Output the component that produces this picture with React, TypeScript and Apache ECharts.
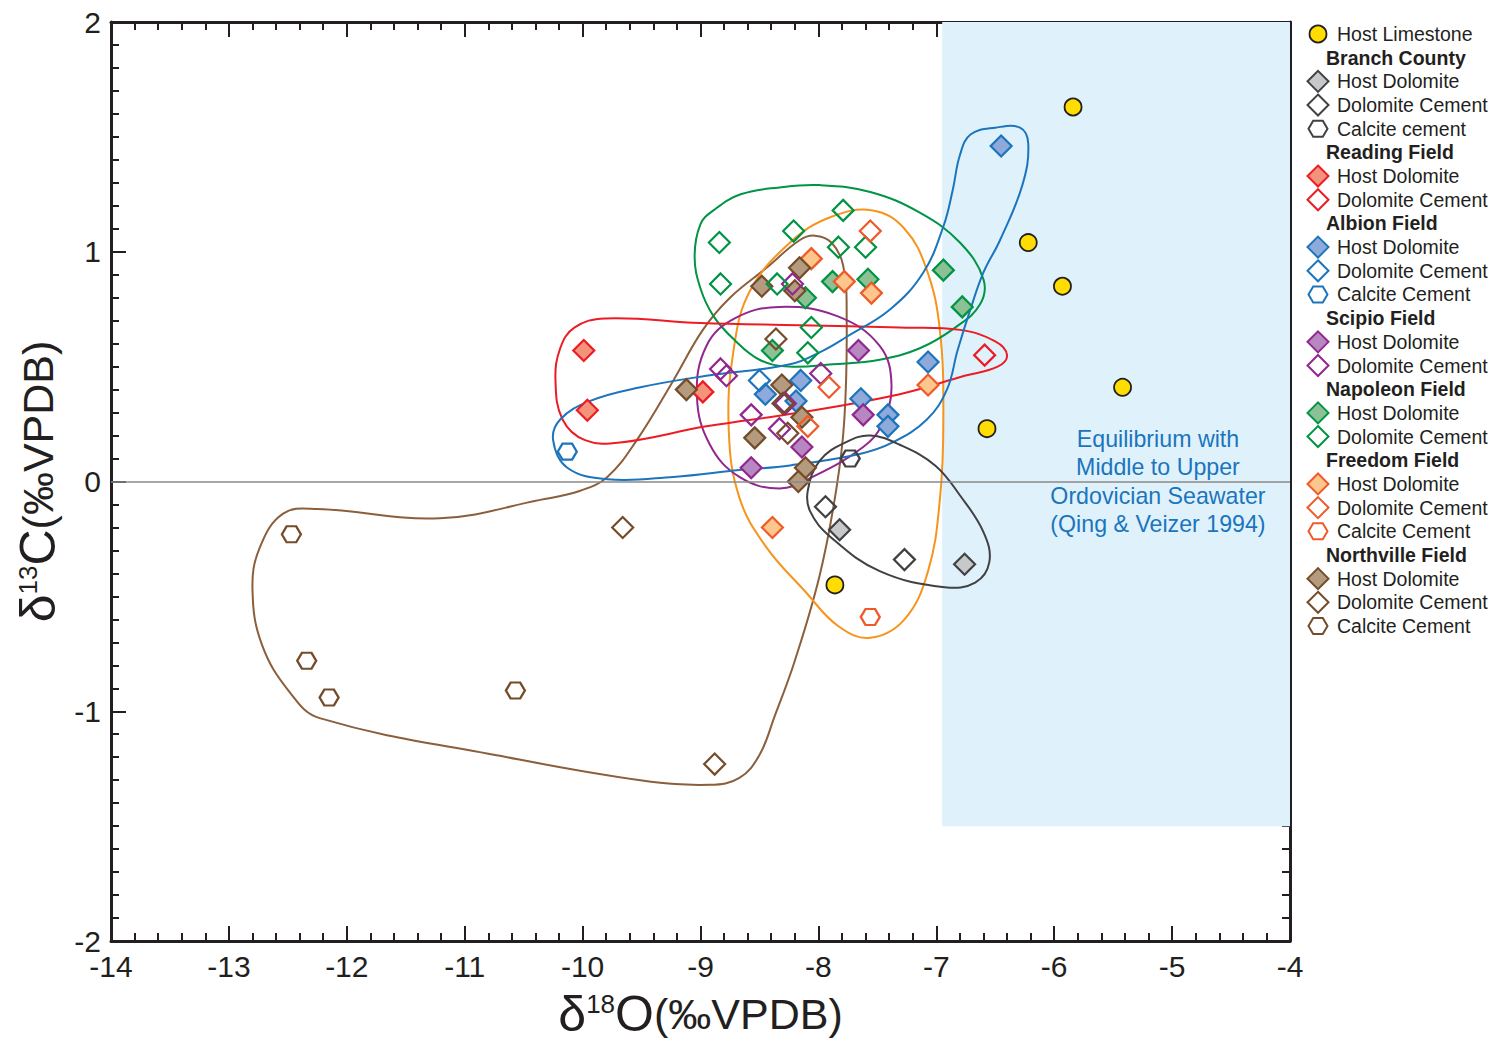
import React, { useEffect, useRef } from "react";
import * as echarts from "echarts";

const FONT = '"Liberation Sans", Arial, Helvetica, sans-serif';

// ---------- axis ----------
const X_MIN = -14;
const X_MAX = -4;
const Y_MIN = -2;
const Y_MAX = 2;

// ---------- data (δ18O, δ13C) ----------
const HOST_LIMESTONE = [[-5.84, 1.63], [-6.22, 1.04], [-5.93, 0.85], [-5.42, 0.41], [-6.57, 0.23], [-7.86, -0.45]];

const BRANCH_HOST = [[-7.82, -0.21], [-6.76, -0.36]];
const BRANCH_CEMENT = [[-7.94, -0.11], [-7.27, -0.34]];
const BRANCH_CALCITE = [[-7.73, 0.1]];

const READING_HOST = [[-9.99, 0.57], [-9.96, 0.31], [-8.98, 0.39]];
const READING_CEMENT = [[-6.59, 0.55]];

const ALBION_HOST = [[-6.45, 1.46], [-7.07, 0.52], [-7.64, 0.36], [-7.41, 0.29], [-7.41, 0.24], [-8.15, 0.44], [-8.45, 0.38], [-8.19, 0.35]];
const ALBION_CEMENT = [[-8.5, 0.44]];
const ALBION_CALCITE = [[-10.13, 0.13]];

const SCIPIO_HOST = [[-7.66, 0.57], [-7.62, 0.29], [-8.57, 0.06], [-8.14, 0.15]];
const SCIPIO_CEMENT = [[-8.83, 0.49], [-8.78, 0.46], [-8.57, 0.29], [-8.33, 0.23], [-7.98, 0.47], [-8.28, 0.34], [-8.22, 0.86]];

const NAPOLEON_HOST = [[-6.94, 0.92], [-6.78, 0.76], [-7.58, 0.88], [-7.88, 0.87], [-8.11, 0.8], [-8.39, 0.57]];
const NAPOLEON_CEMENT = [[-8.84, 1.04], [-8.83, 0.86], [-8.21, 1.09], [-7.79, 1.18], [-7.83, 1.02], [-7.6, 1.02], [-8.35, 0.86], [-8.06, 0.67], [-8.09, 0.56]];

const FREEDOM_HOST = [[-8.06, 0.97], [-7.78, 0.87], [-7.55, 0.82], [-7.07, 0.42], [-8.39, -0.2]];
const FREEDOM_CEMENT = [[-7.56, 1.09], [-7.91, 0.41], [-8.09, 0.24]];
const FREEDOM_CALCITE = [[-7.56, -0.59]];

const NORTHVILLE_HOST = [[-9.12, 0.4], [-8.48, 0.85], [-8.16, 0.93], [-8.2, 0.83], [-8.31, 0.42], [-8.54, 0.19], [-8.14, 0.28], [-8.11, 0.06], [-8.17, 0.0]];
const NORTHVILLE_CEMENT = [[-8.36, 0.62], [-8.88, -1.23], [-9.66, -0.2], [-8.26, 0.21], [-8.3, 0.34]];
const NORTHVILLE_CALCITE = [[-12.47, -0.23], [-12.34, -0.78], [-12.15, -0.94], [-10.57, -0.91]];

// ---------- field outlines (data coords) ----------
const NAPOLEON_OUTLINE = [[-9.05, 0.98], [-9.0, 1.12], [-8.89, 1.18], [-8.66, 1.25], [-8.33, 1.28], [-7.99, 1.29], [-7.56, 1.26], [-7.14, 1.17], [-6.8, 1.04], [-6.6, 0.88], [-6.63, 0.77], [-6.84, 0.67], [-7.14, 0.58], [-7.48, 0.53], [-7.88, 0.51], [-8.25, 0.5], [-8.5, 0.53], [-8.72, 0.62], [-8.89, 0.72], [-9.0, 0.84]];
const READING_OUTLINE = [[-10.23, 0.44], [-10.19, 0.58], [-10.07, 0.67], [-9.81, 0.71], [-9.0, 0.69], [-8.16, 0.68], [-7.31, 0.67], [-6.8, 0.66], [-6.5, 0.61], [-6.4, 0.55], [-6.48, 0.5], [-6.76, 0.46], [-7.31, 0.38], [-8.16, 0.3], [-8.95, 0.24], [-9.68, 0.17], [-9.98, 0.18], [-10.17, 0.27]];
const ALBION_OUTLINE = [[-10.25, 0.18], [-10.19, 0.27], [-9.94, 0.35], [-9.51, 0.41], [-8.95, 0.46], [-8.24, 0.51], [-7.96, 0.57], [-7.76, 0.63], [-7.39, 0.75], [-7.11, 0.91], [-6.94, 1.11], [-6.86, 1.27], [-6.8, 1.42], [-6.71, 1.51], [-6.5, 1.54], [-6.29, 1.54], [-6.22, 1.47], [-6.27, 1.29], [-6.46, 1.05], [-6.6, 0.91], [-6.71, 0.75], [-6.82, 0.57], [-6.91, 0.4], [-7.08, 0.27], [-7.37, 0.17], [-7.65, 0.12], [-8.24, 0.07], [-8.67, 0.05], [-9.23, 0.02], [-9.79, 0.01], [-10.13, 0.06]];
const SCIPIO_OUTLINE = [[-9.03, 0.37], [-8.95, 0.59], [-8.71, 0.71], [-8.33, 0.76], [-7.84, 0.72], [-7.48, 0.59], [-7.38, 0.42], [-7.46, 0.25], [-7.62, 0.15], [-8.05, 0.02], [-8.33, -0.03], [-8.67, 0.02], [-8.92, 0.16]];
const FREEDOM_OUTLINE = [[-7.54, 1.18], [-7.27, 1.1], [-7.08, 0.92], [-6.97, 0.66], [-6.94, 0.27], [-6.97, -0.08], [-7.07, -0.39], [-7.27, -0.6], [-7.56, -0.68], [-7.83, -0.63], [-8.11, -0.48], [-8.45, -0.28], [-8.67, -0.07], [-8.76, 0.22], [-8.72, 0.57], [-8.58, 0.83], [-8.24, 1.04], [-7.9, 1.15]];
const NORTHVILLE_OUTLINE = [[-9.79, 0.02], [-9.54, 0.18], [-9.23, 0.44], [-8.98, 0.66], [-8.75, 0.8], [-8.44, 0.93], [-8.16, 1.05], [-8.03, 1.07], [-7.89, 1.04], [-7.79, 0.94], [-7.76, 0.7], [-7.78, 0.27], [-7.85, -0.04], [-7.99, -0.41], [-8.2, -0.78], [-8.37, -1.02], [-8.5, -1.19], [-8.67, -1.29], [-8.92, -1.32], [-9.51, -1.3], [-10.64, -1.2], [-12.23, -1.03], [-12.48, -0.92], [-12.72, -0.71], [-12.8, -0.47], [-12.74, -0.29], [-12.54, -0.14], [-12.25, -0.12], [-11.21, -0.16], [-10.36, -0.08], [-10.02, -0.04]];
const BRANCH_OUTLINE = [[-8.09, -0.04], [-7.99, 0.09], [-7.77, 0.17], [-7.56, 0.2], [-7.31, 0.16], [-7.01, 0.07], [-6.8, -0.06], [-6.6, -0.22], [-6.55, -0.35], [-6.67, -0.44], [-6.93, -0.46], [-7.48, -0.39], [-7.9, -0.24], [-8.07, -0.13]];

// seawater equilibrium box
const SEAWATER_BOX = [[-6.95, 2], [-4, -1.5]];
const SEAWATER_LABEL_POS = [-5.12, 0.0];
const SEAWATER_LABEL = "Equilibrium with\nMiddle to Upper\nOrdovician Seawater\n(Qing & Veizer 1994)";

// ---------- styles ----------
const STYLES: Record<string, { fill: string; stroke: string; line: string }> = {
  limestone: { fill: "#ffdd00", stroke: "#231f20", line: "#231f20" },
  branch: { fill: "#c6c8ca", stroke: "#414042", line: "#414042" },
  reading: { fill: "#f4937b", stroke: "#ec1c24", line: "#ed1c24" },
  albion: { fill: "#8eaadb", stroke: "#1c75bc", line: "#1c75bc" },
  scipio: { fill: "#b687c0", stroke: "#92278f", line: "#92278f" },
  napoleon: { fill: "#8cc196", stroke: "#009444", line: "#009444" },
  freedom: { fill: "#fdc68c", stroke: "#ef5a28", line: "#f7941d" },
  northville: { fill: "#b49a7e", stroke: "#754c29", line: "#8b5e3c" },
};

const HEX_PATH = "path://M0,8 L5,0 L15,0 L20,8 L15,16 L5,16 Z";

const GROUPS = [
  { name: "Host Limestone", data: HOST_LIMESTONE, shape: "circle", key: "limestone", open: false },
  { name: "Branch County Host Dolomite", data: BRANCH_HOST, shape: "diamond", key: "branch", open: false },
  { name: "Branch County Dolomite Cement", data: BRANCH_CEMENT, shape: "diamond", key: "branch", open: true },
  { name: "Branch County Calcite cement", data: BRANCH_CALCITE, shape: "hex", key: "branch", open: true },
  { name: "Reading Field Host Dolomite", data: READING_HOST, shape: "diamond", key: "reading", open: false },
  { name: "Reading Field Dolomite Cement", data: READING_CEMENT, shape: "diamond", key: "reading", open: true },
  { name: "Albion Field Host Dolomite", data: ALBION_HOST, shape: "diamond", key: "albion", open: false },
  { name: "Albion Field Dolomite Cement", data: ALBION_CEMENT, shape: "diamond", key: "albion", open: true },
  { name: "Albion Field Calcite Cement", data: ALBION_CALCITE, shape: "hex", key: "albion", open: true },
  { name: "Scipio Field Host Dolomite", data: SCIPIO_HOST, shape: "diamond", key: "scipio", open: false },
  { name: "Scipio Field Dolomite Cement", data: SCIPIO_CEMENT, shape: "diamond", key: "scipio", open: true },
  { name: "Napoleon Field Host Dolomite", data: NAPOLEON_HOST, shape: "diamond", key: "napoleon", open: false },
  { name: "Napoleon Field Dolomite Cement", data: NAPOLEON_CEMENT, shape: "diamond", key: "napoleon", open: true },
  { name: "Freedom Field Host Dolomite", data: FREEDOM_HOST, shape: "diamond", key: "freedom", open: false },
  { name: "Freedom Field Dolomite Cement", data: FREEDOM_CEMENT, shape: "diamond", key: "freedom", open: true },
  { name: "Freedom Field Calcite Cement", data: FREEDOM_CALCITE, shape: "hex", key: "freedom", open: true },
  { name: "Northville Field Host Dolomite", data: NORTHVILLE_HOST, shape: "diamond", key: "northville", open: false },
  { name: "Northville Field Dolomite Cement", data: NORTHVILLE_CEMENT, shape: "diamond", key: "northville", open: true },
  { name: "Northville Field Calcite Cement", data: NORTHVILLE_CALCITE, shape: "hex", key: "northville", open: true },
];

const OUTLINES = [
  { points: NORTHVILLE_OUTLINE, key: "northville" },
  { points: FREEDOM_OUTLINE, key: "freedom" },
  { points: NAPOLEON_OUTLINE, key: "napoleon" },
  { points: SCIPIO_OUTLINE, key: "scipio" },
  { points: READING_OUTLINE, key: "reading" },
  { points: ALBION_OUTLINE, key: "albion" },
  { points: BRANCH_OUTLINE, key: "branch" },
];

const LEGEND_ROWS = [
  { label: "Host Limestone", shape: "circle", key: "limestone", open: false },
  { label: "Branch County", header: true },
  { label: "Host Dolomite", shape: "diamond", key: "branch", open: false },
  { label: "Dolomite Cement", shape: "diamond", key: "branch", open: true },
  { label: "Calcite cement", shape: "hex", key: "branch", open: true },
  { label: "Reading Field", header: true },
  { label: "Host Dolomite", shape: "diamond", key: "reading", open: false },
  { label: "Dolomite Cement", shape: "diamond", key: "reading", open: true },
  { label: "Albion Field", header: true },
  { label: "Host Dolomite", shape: "diamond", key: "albion", open: false },
  { label: "Dolomite Cement", shape: "diamond", key: "albion", open: true },
  { label: "Calcite Cement", shape: "hex", key: "albion", open: true },
  { label: "Scipio Field", header: true },
  { label: "Host Dolomite", shape: "diamond", key: "scipio", open: false },
  { label: "Dolomite Cement", shape: "diamond", key: "scipio", open: true },
  { label: "Napoleon Field", header: true },
  { label: "Host Dolomite", shape: "diamond", key: "napoleon", open: false },
  { label: "Dolomite Cement", shape: "diamond", key: "napoleon", open: true },
  { label: "Freedom Field", header: true },
  { label: "Host Dolomite", shape: "diamond", key: "freedom", open: false },
  { label: "Dolomite Cement", shape: "diamond", key: "freedom", open: true },
  { label: "Calcite Cement", shape: "hex", key: "freedom", open: true },
  { label: "Northville Field", header: true },
  { label: "Host Dolomite", shape: "diamond", key: "northville", open: false },
  { label: "Dolomite Cement", shape: "diamond", key: "northville", open: true },
  { label: "Calcite Cement", shape: "hex", key: "northville", open: true },
];

function buildLegend(): any[] {
  const els: any[] = [];
  const x0 = 1318;
  const y0 = 34;
  const dy = 23.68;
  LEGEND_ROWS.forEach((r: any, i) => {
    const cy = y0 + i * dy;
    if (r.header) {
      els.push({
        type: "text",
        x: 1326,
        y: cy,
        style: {
          text: r.label,
          font: `bold 19.5px ${FONT}`,
          fill: "#231f20",
          verticalAlign: "middle",
          textVerticalAlign: "middle",
        },
        silent: true,
      });
      return;
    }
    const st = STYLES[r.key];
    const style = { fill: r.open ? "rgba(255,255,255,0)" : st.fill, stroke: st.stroke, lineWidth: 2 };
    if (r.shape === "circle") {
      els.push({ type: "circle", shape: { cx: x0, cy, r: 8.5 }, style: { ...style, lineWidth: 1.8 }, silent: true });
    } else if (r.shape === "diamond") {
      const h = 10.5;
      els.push({
        type: "polygon",
        shape: { points: [[x0, cy - h], [x0 + h, cy], [x0, cy + h], [x0 - h, cy]] },
        style,
        silent: true,
      });
    } else {
      els.push({
        type: "polygon",
        shape: {
          points: [[x0 - 9.5, cy], [x0 - 4.8, cy - 8], [x0 + 4.8, cy - 8], [x0 + 9.5, cy], [x0 + 4.8, cy + 8], [x0 - 4.8, cy + 8]],
        },
        style,
        silent: true,
      });
    }
    els.push({
      type: "text",
      x: 1337,
      y: cy,
      style: {
        text: r.label,
        font: `19.5px ${FONT}`,
        fill: "#231f20",
        verticalAlign: "middle",
        textVerticalAlign: "middle",
      },
      silent: true,
    });
  });
  return els;
}

const AXIS_COLOR = "#231f20";

function axisCommon(isX: boolean, labels: boolean) {
  return {
    type: "value",
    min: isX ? X_MIN : Y_MIN,
    max: isX ? X_MAX : Y_MAX,
    interval: 1,
    axisLine: { show: true, onZero: false, lineStyle: { color: AXIS_COLOR, width: 3 } },
    axisTick: { show: true, inside: true, length: 15, lineStyle: { color: AXIS_COLOR, width: 2 } },
    minorTick: { show: true, splitNumber: isX ? 5 : 10, length: 8, lineStyle: { color: AXIS_COLOR, width: 2 } },
    splitLine: { show: false },
    minorSplitLine: { show: false },
    axisLabel: labels
      ? { show: true, fontSize: 30, lineHeight: 24, color: AXIS_COLOR, fontFamily: FONT, margin: isX ? 13 : 10 }
      : { show: false },
  };
}

const NAME_RICH = {
  d: { fontSize: 50, fontFamily: FONT, color: AXIS_COLOR, lineHeight: 46 },
  s: { fontSize: 26, fontFamily: FONT, color: AXIS_COLOR, verticalAlign: "top", lineHeight: 28 },
  p: { fontSize: 43, fontFamily: FONT, color: AXIS_COLOR, lineHeight: 46 },
};

export default function App() {
  const ref = useRef<HTMLDivElement>(null);
  useEffect(() => {
    if (!ref.current) return;
    const chart = echarts.init(ref.current, undefined, { renderer: "svg" });

    const scatterSeries = GROUPS.map((g) => {
      const st = STYLES[g.key];
      const symbol = g.shape === "hex" ? HEX_PATH : g.shape;
      const size = g.shape === "circle" ? 17 : g.shape === "hex" ? [19, 16] : 21;
      return {
        name: g.name,
        type: "scatter",
        data: g.data,
        symbol,
        symbolSize: size,
        z: g.open ? 5 : 4,
        itemStyle: {
          color: g.open ? "rgba(255,255,255,0)" : st.fill,
          borderColor: st.stroke,
          borderWidth: g.shape === "circle" ? 1.8 : 2.2,
          opacity: 1,
        },
        emphasis: { disabled: true },
      };
    });

    const option: any = {
      animation: false,
      backgroundColor: "#ffffff",
      grid: { left: 111, right: 208, top: 22, bottom: 100, containLabel: false, outerBoundsMode: "none" },
      xAxis: [
        {
          ...axisCommon(true, true),
          position: "bottom",
          name: "{d|δ}{s|18}{d|O}{p|(‰VPDB)}",
          nameLocation: "middle",
          nameGap: 50,
          nameMoveOverlap: false,
          nameTextStyle: { rich: NAME_RICH },
        },
        { ...axisCommon(true, false), position: "top" },
      ],
      yAxis: [
        {
          ...axisCommon(false, true),
          position: "left",
          name: "{d|δ}{s|13}{d|C}{p|(‰VPDB)}",
          nameLocation: "middle",
          nameGap: 50,
          nameMoveOverlap: false,
          nameTextStyle: { rich: NAME_RICH },
        },
        { ...axisCommon(false, false), position: "right" },
      ],
      graphic: buildLegend(),
      series: [
        {
          name: "background",
          type: "scatter",
          data: [[-5, 0]],
          symbolSize: 0,
          z: 1,
          silent: true,
          markArea: {
            silent: true,
            itemStyle: { color: "#dff2fc" },
            data: [[{ coord: SEAWATER_BOX[0] }, { coord: SEAWATER_BOX[1] }]],
          },
          markLine: {
            silent: true,
            symbol: ["none", "none"],
            label: { show: false },
            lineStyle: { color: "#8a8a8a", width: 1.6, type: "solid" },
            data: [{ yAxis: 0 }],
          },
          markPoint: {
            silent: true,
            symbol: "circle",
            symbolSize: 0,
            data: [{ coord: SEAWATER_LABEL_POS }],
            label: {
              show: true,
              position: "inside",
              formatter: SEAWATER_LABEL,
              fontSize: 23.2,
              lineHeight: 28.5,
              color: "#1b75bc",
              fontFamily: FONT,
              align: "center",
            },
          },
        },
        {
          name: "outlines",
          type: "custom",
          z: 3,
          silent: true,
          clip: false,
          data: OUTLINES.map((o) => o.points[0]),
          renderItem: (params: any, api: any) => {
            const o = OUTLINES[params.dataIndex];
            const pts = o.points.map((p) => api.coord(p));
            return {
              type: "polygon",
              shape: { points: pts, smooth: 0.4 },
              style: { fill: "none", stroke: STYLES[o.key].line, lineWidth: 2 },
              silent: true,
            };
          },
        },
        ...scatterSeries,
      ],
    };
    chart.setOption(option);
    return () => chart.dispose();
  }, []);
  return (
    <div
      ref={ref}
      style={{ position: "fixed", left: 0, top: 0, width: 1498, height: 1041, background: "#fff" }}
    />
  );
}
